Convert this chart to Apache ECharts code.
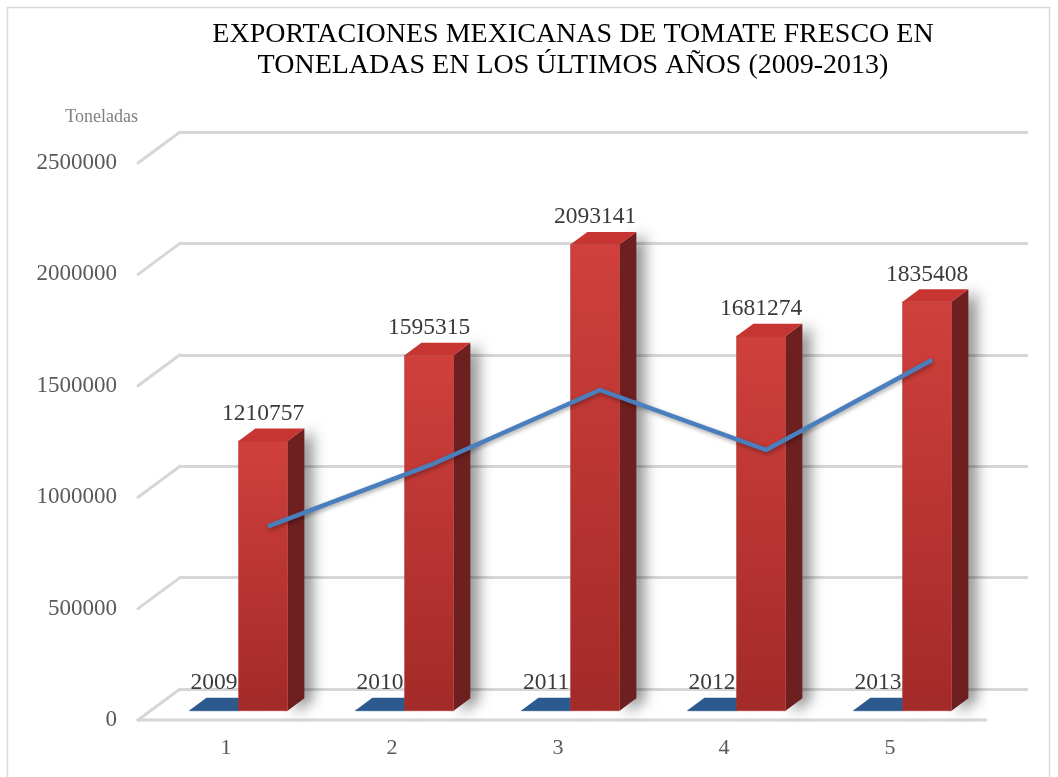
<!DOCTYPE html>
<html>
<head>
<meta charset="utf-8">
<script src="https://cdn.jsdelivr.net/npm/echarts@6/dist/echarts.min.js"></script>
<style>
html,body{margin:0;padding:0;background:#fff;}
#chart{width:1058px;height:777px;}
</style>
</head>
<body>
<div id="chart"></div>
<script>
// ---- data ----
const categories = ['1', '2', '3', '4', '5'];
const years = [2009, 2010, 2011, 2012, 2013];
const tonnes = [1210757, 1595315, 2093141, 1681274, 1835408];
const lineValues = [730000, 1012000, 1342000, 1073000, 1477000];
const yTicks = [0, 500000, 1000000, 1500000, 2000000, 2500000];
const titleText = 'EXPORTACIONES MEXICANAS DE TOMATE FRESCO EN\nTONELADAS EN LOS ÚLTIMOS AÑOS (2009-2013)';
const yName = 'Toneladas';

// ---- styling constants ----
const SERIF = '"Liberation Serif", "Times New Roman", serif';
const DX = -42, DY = 31;          // depth vector from back wall to front edge
const T_FRONT = 0.70, T_BACK = 0.30;
const BAR_FRAC = 0.295;

const chart = echarts.init(document.getElementById('chart'));

function bar3d(side, colors) {
  return function (params, api) {
    const idx = api.value(0), v = api.value(1);
    const base = api.coord([idx, 0]);
    const top = api.coord([idx, v]);
    const bw = api.size([1, 0])[0] * BAR_FRAC;
    const x0 = side < 0 ? base[0] - bw : base[0];
    const x1 = x0 + bw;
    const fx = DX * T_FRONT, fy = DY * T_FRONT;
    const bx = DX * T_BACK, by = DY * T_BACK;
    const children = [];
    children.push({
      type: 'polygon',
      shape: { points: [[x1 + fx, top[1] + fy], [x1 + bx, top[1] + by], [x1 + bx, base[1] + by], [x1 + fx, base[1] + fy]] },
      style: { fill: colors.side, shadowColor: 'rgba(0,0,0,0.45)', shadowBlur: 14, shadowOffsetX: 8, shadowOffsetY: 2 }
    });
    children.push({
      type: 'rect',
      shape: { x: x0 + fx, y: top[1] + fy, width: bw, height: Math.max(base[1] - top[1], 0.5) },
      style: {
        fill: { type: 'linear', x: 0, y: 0, x2: 0, y2: 1, colorStops: [{ offset: 0, color: colors.front0 }, { offset: 1, color: colors.front1 }] },
        stroke: colors.edge, lineWidth: 0.6
      }
    });
    children.push({
      type: 'polygon',
      shape: { points: [[x0 + fx, top[1] + fy], [x1 + fx, top[1] + fy], [x1 + bx, top[1] + by], [x0 + bx, top[1] + by]] },
      style: { fill: colors.top }
    });
    children.push({
      type: 'text',
      style: {
        text: String(v), x: (x0 + x1) / 2 + fx, y: top[1] + by - 15,
        align: 'center', verticalAlign: 'middle',
        fontSize: 23.5, fontFamily: SERIF, fill: '#3a3a3a'
      },
      z2: 10
    });
    return { type: 'group', children: children };
  };
}

const option = {
  backgroundColor: '#ffffff',
  animation: false,
  title: {
    text: titleText,
    left: 568,
    textAlign: 'center',
    top: 14,
    textStyle: { fontFamily: SERIF, fontSize: 28, fontWeight: 'normal', color: '#000000', lineHeight: 31 }
  },
  graphic: [{
    type: 'rect',
    shape: { x: 7.5, y: 7.5, width: 1042, height: 790 },
    style: { fill: 'none', stroke: '#d9d9d9', lineWidth: 1.5 },
    silent: true
  }],
  grid: [
    { left: 180, right: 30, top: 132, bottom: 88 },
    { left: 143, right: 85, top: 163, bottom: 57 },
    { left: 185, right: 43, top: 132, bottom: 88 }
  ],
  xAxis: [
    { gridIndex: 0, type: 'value', min: 0, max: 1, show: false },
    {
      gridIndex: 1, type: 'category', data: categories,
      axisLine: { show: false }, axisTick: { show: false },
      axisLabel: { margin: 17, fontSize: 22, fontFamily: SERIF, color: '#595959' }
    },
    { gridIndex: 2, type: 'category', data: categories, show: false }
  ],
  yAxis: [
    {
      gridIndex: 0, type: 'value', min: 0, max: 2500000, interval: 500000,
      axisLabel: { show: false }, axisLine: { show: false }, axisTick: { show: false },
      splitLine: { lineStyle: { color: '#d6d6d6', width: 3 } }
    },
    {
      gridIndex: 1, type: 'value', min: 0, max: 2500000, interval: 500000,
      axisLine: { show: false }, axisTick: { show: false }, splitLine: { show: false },
      axisLabel: { margin: 26, fontSize: 23, fontFamily: SERIF, color: '#595959', formatter: v => String(v) },
      name: yName, nameLocation: 'end', nameGap: 37,
      nameTextStyle: { fontFamily: SERIF, fontSize: 18, color: '#7f7f7f', align: 'right', padding: [0, 5, 0, 0] }
    },
    { gridIndex: 2, type: 'value', min: 0, max: 2500000, interval: 500000, show: false }
  ],
  series: [
    {
      type: 'custom', name: 'frame', xAxisIndex: 0, yAxisIndex: 0, silent: true, z: 1,
      data: yTicks.map(v => [0, v]),
      renderItem: function (params, api) {
        const v = api.value(1);
        const p = api.coord([0, v]);
        const children = [{
          type: 'line',
          shape: { x1: p[0], y1: p[1], x2: p[0] + DX, y2: p[1] + DY },
          style: { stroke: '#d6d6d6', lineWidth: 3, lineCap: 'round' }
        }];
        if (v === 0) {
          const q = api.coord([1, 0]);
          children.push({
            type: 'line',
            shape: { x1: p[0] + DX, y1: p[1] + DY, x2: q[0] + DX, y2: q[1] + DY },
            style: { stroke: '#d6d6d6', lineWidth: 3, lineCap: 'round' }
          });
        }
        return { type: 'group', children: children };
      }
    },
    {
      type: 'custom', name: 'Año', xAxisIndex: 2, yAxisIndex: 2, z: 3,
      data: years.map((y, i) => [i, y]),
      renderItem: bar3d(-1, { side: '#1f4068', front0: '#2a5585', front1: '#24497a', top: '#2c5a8f', edge: '#2c5a8f' })
    },
    {
      type: 'custom', name: 'Toneladas', xAxisIndex: 2, yAxisIndex: 2, z: 4,
      data: tonnes.map((t, i) => [i, t]),
      renderItem: bar3d(1, { side: '#6e1f1f', front0: '#d0403c', front1: '#a22a28', top: '#c73532', edge: '#b23431' })
    },
    {
      type: 'line', name: 'tendencia', xAxisIndex: 2, yAxisIndex: 2, z: 6,
      data: lineValues, symbol: 'none',
      lineStyle: { color: '#4a7ebd', width: 4.5, shadowColor: 'rgba(0,0,0,0.35)', shadowBlur: 4, shadowOffsetY: 2, shadowOffsetX: 1 }
    }
  ]
};
chart.setOption(option);
</script>
</body>
</html>
